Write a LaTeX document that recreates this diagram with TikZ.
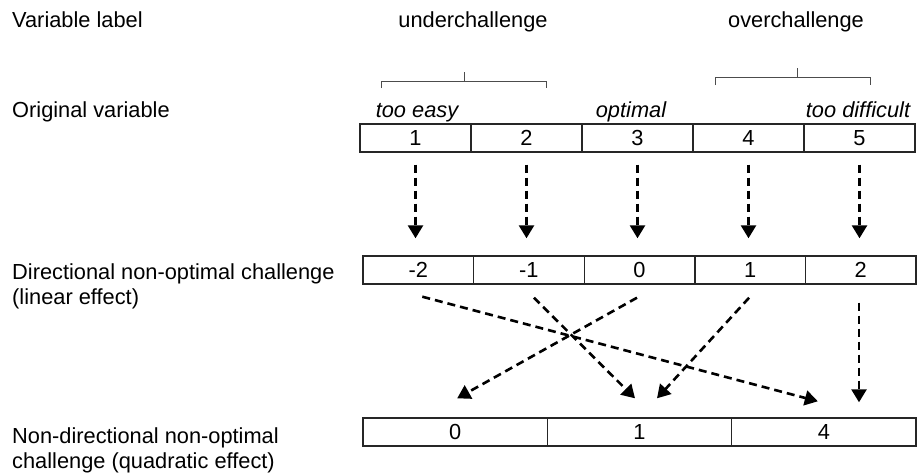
\documentclass[tikz,border=0pt]{standalone}
\usepackage{fontspec}
\setmainfont{Liberation Sans}
\usetikzlibrary{arrows.meta}
\begin{document}
\begin{tikzpicture}[x=1pt,y=-1pt,
  every node/.style={font=\fontsize{21.8}{24.5}\selectfont, inner sep=0pt},
  lbl/.style={anchor=base west, align=left},
  cellA/.style={draw=black!85, line width=1.4pt, minimum width=111pt, minimum height=28pt},
  cellB/.style={draw=black!85, line width=1.4pt, minimum width=110.6pt, minimum height=28pt},
  cellC/.style={draw=black!85, line width=1.4pt, minimum width=184.33pt, minimum height=28pt},
  darr/.style={line width=2.6pt, dash pattern=on 8pt off 5pt, -{Triangle[width=15pt,length=13pt]}},
  brace/.style={draw=black!70, line width=1pt}
]
\useasboundingbox (0,0) rectangle (917,474);
% left labels
\node[lbl] (l1) at (12,27) {Variable label};
\node[lbl] (l2) at (12,117) {Original variable};
\node[lbl] (l3) at (12,304) {Directional non-optimal challenge\\(linear effect)};
\node[lbl] (l4) at (12,468) {Non-directional non-optimal\\challenge (quadratic effect)};
% top labels
\node[anchor=base] (uc) at (473,27) {underchallenge};
\node[anchor=base] (oc) at (796,27) {overchallenge};
% braces
\draw[brace] (381,88) -- (381,81) -- (546,81) -- (546,88);
\draw[brace] (464,81) -- (464,72);
\draw[brace] (715,85) -- (715,77) -- (870,77) -- (870,85);
\draw[brace] (797,77) -- (797,68);
% italic labels
\node[anchor=base, font=\fontsize{21.8}{24.5}\selectfont\itshape] (te) at (417,117) {too easy};
\node[anchor=base, font=\fontsize{21.8}{24.5}\selectfont\itshape] (op) at (631,117) {optimal};
\node[anchor=base, font=\fontsize{21.8}{24.5}\selectfont\itshape] (td) at (858,117) {too difficult};
% top row
\foreach \i/\t in {1/1,2/2,3/3,4/4,5/5}
  \node[cellA] (t\i) at ({360+55.5+111*(\i-1)},138) {\t};
% middle row
\foreach \i/\t in {1/-2,2/-1,3/0,4/1,5/2}
  \node[cellB] (m\i) at ({363+55.3+110.6*(\i-1)},270) {\t};
% bottom row
\foreach \i/\t in {1/0,2/1,3/4}
  \node[cellC] (b\i) at ({363+92.17+184.33*(\i-1)},432) {\t};
% top -> middle arrows
\foreach \i in {1,...,5}
  \draw[darr] ([yshift=-12pt]t\i.south) -- ([yshift=17pt]t\i.south |- m\i.north);
% middle -> bottom arrows
\draw[darr] ([shift={(4,12)}]m1.south) -- ([shift={(-6,-16)}]b3.north);
\draw[darr] ([shift={(5,13)}]m2.south) -- ([shift={(-4.5,-19)}]b2.north);
\draw[darr] ([shift={(-2.5,13)}]m3.south) -- ([shift={(2,-19)}]b1.north);
\draw[darr] ([shift={(-1,13)}]m4.south) -- ([shift={(17.5,-19)}]b2.north);
\draw[darr] ([shift={(-1.7,18)}]m5.south) -- ([shift={(-1.7,-15)}]m5.south |- b3.north);
\end{tikzpicture}
\end{document}
